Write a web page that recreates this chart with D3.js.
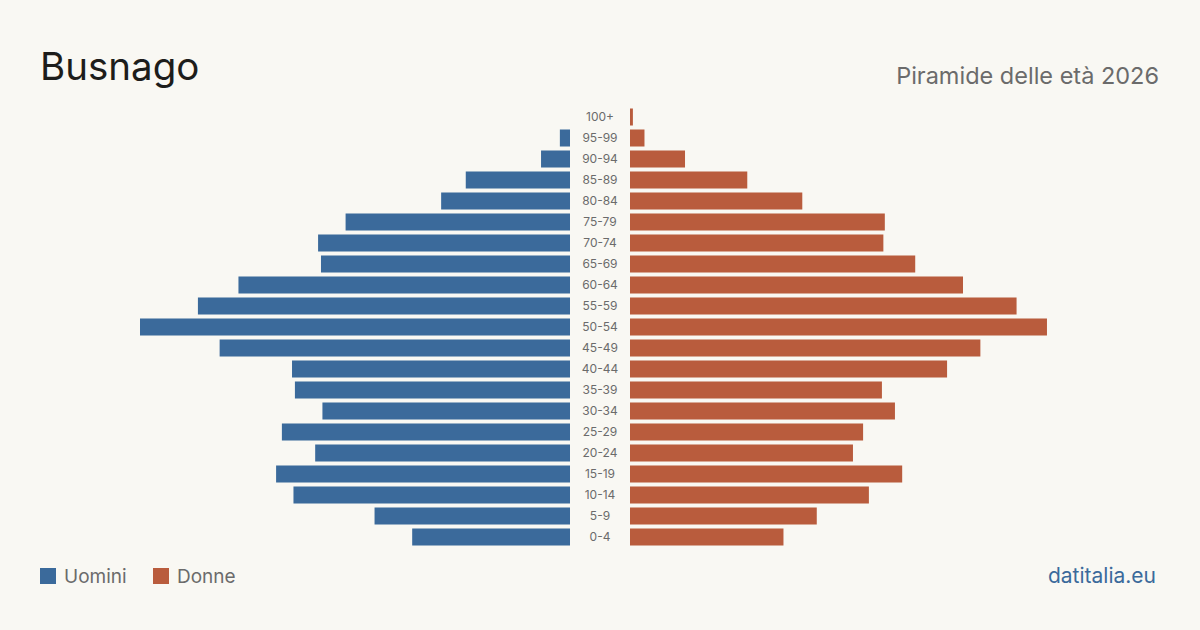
<!DOCTYPE html>
<html lang="it">
<head>
    <meta charset="UTF-8">
    <title>Busnago - Piramide delle età 2026</title>
    <script src="https://d3js.org/d3.v7.min.js"></script>
    <style>
        * { margin: 0; padding: 0; box-sizing: border-box; }
        body { background: #f9f8f3; font-family: Inter, "Noto Sans", sans-serif; }
        svg { display: block; }
    </style>
</head>
<body>
    <svg id="chart" width="1200" height="630"></svg>

    <script>
        // age classes, from the top of the pyramid down
        const ageGroups = ["100+", "95-99", "90-94", "85-89", "80-84", "75-79", "70-74", "65-69",
            "60-64", "55-59", "50-54", "45-49", "40-44", "35-39", "30-34", "25-29",
            "20-24", "15-19", "10-14", "5-9", "0-4"];
        const men = [0, 7, 20, 72, 89, 155, 174, 172, 229, 257, 297, 242, 192, 190, 171, 199, 176, 203, 191, 135, 109];
        const women = [2, 10, 38, 81, 119, 176, 175, 197, 230, 267, 288, 242, 219, 174, 183, 161, 154, 188, 165, 129, 106];

        const width = 1200, height = 630;
        const centerLeft = 570, centerRight = 630;
        const colMen = "#3b6a9b", colWomen = "#b95c3d";

        const svg = d3.select("#chart");
        svg.append("rect").attr("width", width).attr("height", height).attr("fill", "#f9f8f3");

        // titles
        svg.append("text")
            .attr("x", 40).attr("y", 80)
            .attr("font-size", 38.5).attr("fill", "#1d1d1b")
            .text("Busnago");

        svg.append("text")
            .attr("x", 1159).attr("y", 84)
            .attr("text-anchor", "end")
            .attr("font-size", 23.5).attr("fill", "#6b6b6b")
            .text("Piramide delle età 2026");

        const y = d3.scaleBand()
            .domain(ageGroups)
            .range([106.5, 547.5])
            .paddingInner(0.19)
            .paddingOuter(0.095);

        const x = d3.scaleLinear().domain([0, 297]).range([0, 430]);

        const rows = ageGroups.map((g, i) => ({ age: g, m: men[i], f: women[i] }));

        svg.append("g").selectAll("rect")
            .data(rows)
            .join("rect")
            .attr("x", d => centerLeft - x(d.m))
            .attr("y", d => y(d.age))
            .attr("width", d => x(d.m))
            .attr("height", y.bandwidth())
            .attr("fill", colMen);

        svg.append("g").selectAll("rect")
            .data(rows)
            .join("rect")
            .attr("x", centerRight)
            .attr("y", d => y(d.age))
            .attr("width", d => x(d.f))
            .attr("height", y.bandwidth())
            .attr("fill", colWomen);

        svg.append("g").selectAll("text")
            .data(rows)
            .join("text")
            .attr("x", (centerLeft + centerRight) / 2)
            .attr("y", d => y(d.age) + y.bandwidth() / 2)
            .attr("dy", "0.35em")
            .attr("text-anchor", "middle")
            .attr("font-size", 12).attr("fill", "#6b6b6b")
            .text(d => d.age);

        // legend
        const legend = [{ label: "Uomini", color: colMen, x: 40 }, { label: "Donne", color: colWomen, x: 153 }];
        const lg = svg.append("g").selectAll("g").data(legend).join("g")
            .attr("transform", d => `translate(${d.x},568)`);
        lg.append("rect").attr("width", 16).attr("height", 16).attr("fill", d => d.color);
        lg.append("text")
            .attr("x", 24).attr("y", 15)
            .attr("font-size", 19).attr("fill", "#6b6b6b")
            .text(d => d.label);

        svg.append("text")
            .attr("x", 1156).attr("y", 583)
            .attr("text-anchor", "end")
            .attr("font-size", 21).attr("fill", "#3b6a9b")
            .text("datitalia.eu");
    </script>
</body>
</html>
